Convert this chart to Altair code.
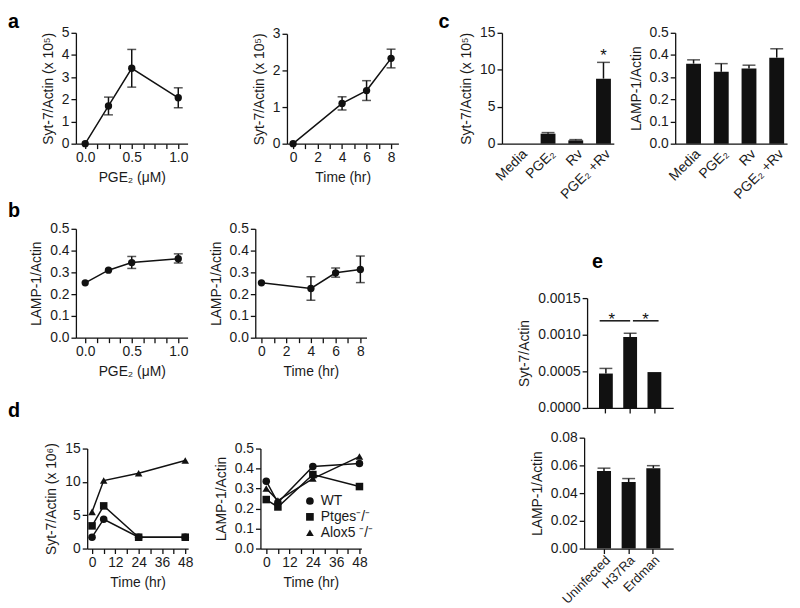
import altair as alt
import pandas as pd

FONT = "Liberation Sans"
W, H = 792, 600
M = 8


def px(x):
    return x - M


def py(y):
    return y - M


# ---------------- data ----------------
a1_x = [0.0, 0.25, 0.5, 1.0]
a1_y = [0.0, 1.70, 3.40, 2.07]
a1_lo = [0.0, 1.30, 2.55, 1.62]
a1_hi = [0.0, 2.10, 4.25, 2.52]

a2_x = [0, 4, 6, 8]
a2_y = [0.0, 1.10, 1.45, 2.33]
a2_lo = [0.0, 0.92, 1.18, 2.07]
a2_hi = [0.0, 1.28, 1.72, 2.58]

b1_x = [0.0, 0.25, 0.5, 1.0]
b1_y = [0.252, 0.310, 0.345, 0.363]
b1_lo = [0.252, 0.310, 0.318, 0.343]
b1_hi = [0.252, 0.310, 0.373, 0.385]

b2_x = [0, 4, 6, 8]
b2_y = [0.252, 0.226, 0.298, 0.313]
b2_lo = [0.252, 0.172, 0.278, 0.253]
b2_hi = [0.252, 0.280, 0.320, 0.375]

c_cats = ["Media", "PGE₂", "Rv", "PGE₂ +Rv"]
c1_y = [0.0, 1.35, 0.45, 8.8]
c1_hi = [0.0, 1.50, 0.55, 11.0]
c1_sig_cat = ["PGE₂ +Rv"]
c1_sig_y = [11.15]
c2_y = [0.361, 0.324, 0.339, 0.388]
c2_hi = [0.378, 0.361, 0.354, 0.428]

d_time = [0, 6, 24, 48]
d_series = ["WT", "Ptges⁻/⁻", "Alox5 ⁻/⁻"]
d1_wt = [1.7, 4.4, 1.7, 1.7]
d1_ptges = [3.4, 6.4, 1.7, 1.7]
d1_alox5 = [5.5, 10.2, 11.3, 13.2]
d2_wt = [0.337, 0.230, 0.410, 0.425]
d2_ptges = [0.245, 0.208, 0.370, 0.310]
d2_alox5 = [0.300, 0.240, 0.350, 0.460]

e_cats = ["Uninfected", "H37Ra", "Erdman"]
e1_y = [0.00047, 0.00097, 0.00049]
e1_hi = [0.00054, 0.00102, 0.00049]
e1_sig_y = 0.00119
e1_star_y = 0.00113
e2_y = [0.056, 0.048, 0.058]
e2_hi = [0.058, 0.0505, 0.0598]

letters = ["a", "c", "b", "d", "e"]
letter_x = [8, 443, 8, 8, 598]
letter_y = [25, 25, 216, 418, 268]

INK = "#111111"
LW = 1.5


def line_panel(xs, ys, lo, hi, xdom, xr, ydom, yr, xticks, xlab, yticks, yfmt, xtitle, ytitle):
    df = pd.DataFrame({"x": xs, "y": ys, "lo": lo, "hi": hi})
    xsc = alt.Scale(domain=xdom, range=[px(xr[0]), px(xr[1])], nice=False, zero=False)
    ysc = alt.Scale(domain=ydom, range=[py(yr[0]), py(yr[1])], nice=False, zero=False)
    xax = alt.Axis(orient="bottom", offset=py(yr[0]) - H, values=xticks, labelExpr=xlab, title=xtitle)
    yax = alt.Axis(orient="left", offset=-px(xr[0]), values=yticks, format=yfmt, title=ytitle)
    X = alt.X("x:Q", scale=xsc, axis=xax)
    base = alt.Chart(df)
    errd = base.transform_filter("datum.hi > datum.lo")
    line = base.mark_line(color=INK, strokeWidth=LW).encode(x=X, y=alt.Y("y:Q", scale=ysc, axis=yax))
    rule = errd.mark_rule(color=INK, strokeWidth=LW).encode(
        x=X, y=alt.Y("lo:Q", scale=ysc, axis=yax), y2="hi:Q")
    cap_lo = errd.mark_tick(color=INK, orient="horizontal", size=9, thickness=LW).encode(
        x=X, y=alt.Y("lo:Q", scale=ysc, axis=yax))
    cap_hi = errd.mark_tick(color=INK, orient="horizontal", size=9, thickness=LW).encode(
        x=X, y=alt.Y("hi:Q", scale=ysc, axis=yax))
    pts = base.mark_point(filled=True, size=55, shape="circle", color=INK, opacity=1).encode(
        x=X, y=alt.Y("y:Q", scale=ysc, axis=yax))
    return alt.layer(line, rule, cap_lo, cap_hi, pts)


def bar_panel(cats, ys, hi, xr, pi, po, al, ydom, yr, yticks, yfmt, ytitle, ticks_on,
              labels_on=True, extra=None, lab_pad=3, lab_size=14):
    df = pd.DataFrame({"c": cats, "y": ys, "hi": hi})
    xsc = alt.Scale(type="band", domain=cats, range=[px(xr[0]), px(xr[1])],
                    paddingInner=pi, paddingOuter=po, align=al)
    ysc = alt.Scale(domain=ydom, range=[py(yr[0]), py(yr[1])], nice=False, zero=True)
    xax = alt.Axis(orient="bottom", offset=py(yr[0]) - H, labelAngle=-45, ticks=ticks_on,
                   labels=labels_on, title=None, labelPadding=lab_pad, labelFontSize=lab_size)
    yax = alt.Axis(orient="left", offset=-px(xr[0]), values=yticks, format=yfmt, title=ytitle)
    X = alt.X("c:N", scale=xsc, axis=xax, sort=cats)
    base = alt.Chart(df)
    errd = base.transform_filter("datum.hi > datum.y")
    bars = base.mark_bar(color=INK).encode(x=X, y=alt.Y("y:Q", scale=ysc, axis=yax))
    rule = errd.mark_rule(color=INK, strokeWidth=LW).encode(
        x=X, y=alt.Y("y:Q", scale=ysc, axis=yax), y2="hi:Q")
    cap = errd.mark_tick(color=INK, orient="horizontal", size=13, thickness=LW).encode(
        x=X, y=alt.Y("hi:Q", scale=ysc, axis=yax))
    layers = [bars, rule, cap]
    if extra is not None:
        layers += extra(xsc, xax, ysc, yax)
    return alt.layer(*layers)


def d_panel(vals, ydom, yr, yticks, yfmt, ytitle, xr, xdom):
    rows = []
    for s, v in zip(d_series, vals):
        for t, y in zip(d_time, v):
            rows.append({"t": t, "y": y, "series": s})
    df = pd.DataFrame(rows)
    xsc = alt.Scale(domain=xdom, range=[px(xr[0]), px(xr[1])], nice=False, zero=False)
    ysc = alt.Scale(domain=ydom, range=[py(yr[0]), py(yr[1])], nice=False, zero=False)
    xax = alt.Axis(orient="bottom", offset=py(yr[0]) - H, values=list(range(0, 49, 6)),
                   labelExpr="datum.value % 12 == 0 ? datum.value : ''", title="Time (hr)")
    yax = alt.Axis(orient="left", offset=-px(xr[0]), values=yticks, format=yfmt, title=ytitle)
    X = alt.X("t:Q", scale=xsc, axis=xax)
    Y = alt.Y("y:Q", scale=ysc, axis=yax)
    base = alt.Chart(df)
    line = base.mark_line(color=INK, strokeWidth=LW).encode(x=X, y=Y, detail="series:N")
    pts = base.mark_point(filled=True, size=58, color=INK, opacity=1).encode(
        x=X, y=Y,
        shape=alt.Shape("series:N", scale=alt.Scale(domain=d_series,
                                                     range=["circle", "square", "triangle-up"]),
                        legend=alt.Legend(orient="none", legendX=px(306), legendY=px(496),
                                          title=None, padding=0, rowPadding=2, labelOffset=4,
                                          symbolFillColor=INK, symbolStrokeColor=INK,
                                          symbolSize=60, labelFontSize=14, labelFont=FONT)))
    return alt.layer(line, pts)


# ---------------- panels ----------------
HALF = "abs(datum.value*2 - round(datum.value*2)) < 1e-6 ? format(datum.value, '.1f') : ''"
a_left = line_panel(a1_x, a1_y, a1_lo, a1_hi, [-0.1, 1.1], [76.6, 189.4], [0, 5], [142, 30],
                    [i * 0.125 for i in range(9)], HALF,
                    [0, 1, 2, 3, 4, 5], "d", "PGE₂ (μM)", "Syt-7/Actin (x 10⁵)")
a_right = line_panel(a2_x, a2_y, a2_lo, a2_hi, [-0.5, 8.6], [289.8, 402.4], [0, 3], [142, 31],
                     list(range(0, 9)), "datum.value % 2 == 0 ? datum.value : ''",
                     [0, 1, 2, 3], "d", "Time (hr)", "Syt-7/Actin (x 10⁵)")
b_left = line_panel(b1_x, b1_y, b1_lo, b1_hi, [-0.1, 1.1], [76.6, 189.4], [0, 0.5], [338, 228],
                    [i * 0.125 for i in range(9)], HALF,
                    [0, 0.1, 0.2, 0.3, 0.4, 0.5], ".1f", "PGE₂ (μM)", "LAMP-1/Actin")
b_right = line_panel(b2_x, b2_y, b2_lo, b2_hi, [-0.5, 8.5], [257.8, 370.2], [0, 0.5], [338, 228],
                     list(range(0, 9)), "datum.value % 2 == 0 ? datum.value : ''",
                     [0, 0.1, 0.2, 0.3, 0.4, 0.5], ".1f", "Time (hr)", "LAMP-1/Actin")


def c1_star(xsc, xax, ysc, yax):
    sdf = pd.DataFrame({"c": c1_sig_cat, "y": c1_sig_y, "t": ["*"]})
    return [alt.Chart(sdf).mark_text(fontSize=17, font=FONT, color=INK, baseline="alphabetic").encode(
        x=alt.X("c:N", scale=xsc, axis=xax, sort=c_cats),
        y=alt.Y("y:Q", scale=ysc, axis=yax), text="t:N")]


c_left = bar_panel(c_cats, c1_y, c1_hi, [507, 620], 0.464, 0.25, 0.79, [0, 15], [142, 30],
                   [0, 5, 10, 15], "d", "Syt-7/Actin (x 10⁵)", False, extra=c1_star)
c_right = bar_panel(c_cats, c2_y, c2_hi, [682, 795], 0.464, 0.25, 0.79, [0, 0.5], [142, 30],
                    [0, 0.1, 0.2, 0.3, 0.4, 0.5], ".1f", "LAMP-1/Actin", False)

d_left = d_panel([d1_wt, d1_ptges, d1_alox5], [0, 15], [551, 450], [0, 5, 10, 15], "d",
                 "Syt-7/Actin (x 10⁶)", [88, 190], [-2.5, 49.5])
d_right = d_panel([d2_wt, d2_ptges, d2_alox5], [0, 0.5], [551, 450], [0, 0.1, 0.2, 0.3, 0.4, 0.5],
                  ".1f", "LAMP-1/Actin", [263, 365], [-3, 49])


def e1_sig(xsc, xax, ysc, yax):
    out = []
    pairs = [(e_cats[0], e_cats[1], 0.05, 0.5, 6), (e_cats[1], e_cats[2], 0.7, 0.8, -9)]
    for a, b, bp1, bp2, dx in pairs:
        ldf = pd.DataFrame({"a": [a], "b": [b], "y": [e1_sig_y]})
        out.append(alt.Chart(ldf).mark_rule(color=INK, strokeWidth=LW).encode(
            x=alt.X("a:N", scale=xsc, axis=xax, sort=e_cats, bandPosition=bp1),
            x2=alt.X2("b:N", bandPosition=bp2),
            y=alt.Y("y:Q", scale=ysc, axis=yax)))
        sdf = pd.DataFrame({"c": [a if dx > 0 else b], "y": [e1_star_y], "t": ["*"]})
        out.append(alt.Chart(sdf).mark_text(fontSize=17, font=FONT, color=INK, dx=dx,
                                            baseline="alphabetic").encode(
            x=alt.X("c:N", scale=xsc, axis=xax, sort=e_cats),
            y=alt.Y("y:Q", scale=ysc, axis=yax), text="t:N"))
    return out


e_top = bar_panel(e_cats, e1_y, e1_hi, [593, 680], 0.43, 0.49, 0.5, [0, 0.0015], [409, 298],
                  [0, 0.0005, 0.001, 0.0015], ".4f", "Syt-7/Actin", True, labels_on=False,
                  extra=e1_sig)
e_bot = bar_panel(e_cats, e2_y, e2_hi, [590, 680], 0.43, 0.52, 0.5, [0, 0.08], [551, 439],
                  [0, 0.02, 0.04, 0.06, 0.08], ".2f", "LAMP-1/Actin", True, lab_pad=0,
                  lab_size=13)

ldf = pd.DataFrame({"t": letters, "lx": [px(v) for v in letter_x], "ly": [py(v) for v in letter_y]})
letter_layer = alt.Chart(ldf).mark_text(fontSize=20, fontWeight="bold", font=FONT, color="black",
                                        align="left", baseline="alphabetic").encode(
    x=alt.X("lx:Q", scale=None, axis=None), y=alt.Y("ly:Q", scale=None, axis=None), text="t:N")

chart = alt.layer(a_left, a_right, c_left, c_right, b_left, b_right, d_left, d_right,
                  e_top, e_bot, letter_layer).resolve_scale(
    x="independent", y="independent").properties(
    width=W, height=H, autosize=alt.AutoSizeParams(type="none"), padding=0,
    background="white").configure_view(stroke=None).configure_axis(
    grid=False, domainColor=INK, domainWidth=1.3, tickColor=INK, tickWidth=1.3, tickSize=5,
    labelFont=FONT, labelFontSize=14, labelColor="#1a1a1a", labelPadding=2,
    titleFont=FONT, titleFontSize=14, titleFontWeight="normal", titleColor="#1a1a1a",
    titlePadding=6, labelFlush=False, labelOverlap=False, labelBound=False
).configure_legend(labelColor="#1a1a1a")

chart.save("out.html", embed_options={"renderer": "svg", "actions": False})
